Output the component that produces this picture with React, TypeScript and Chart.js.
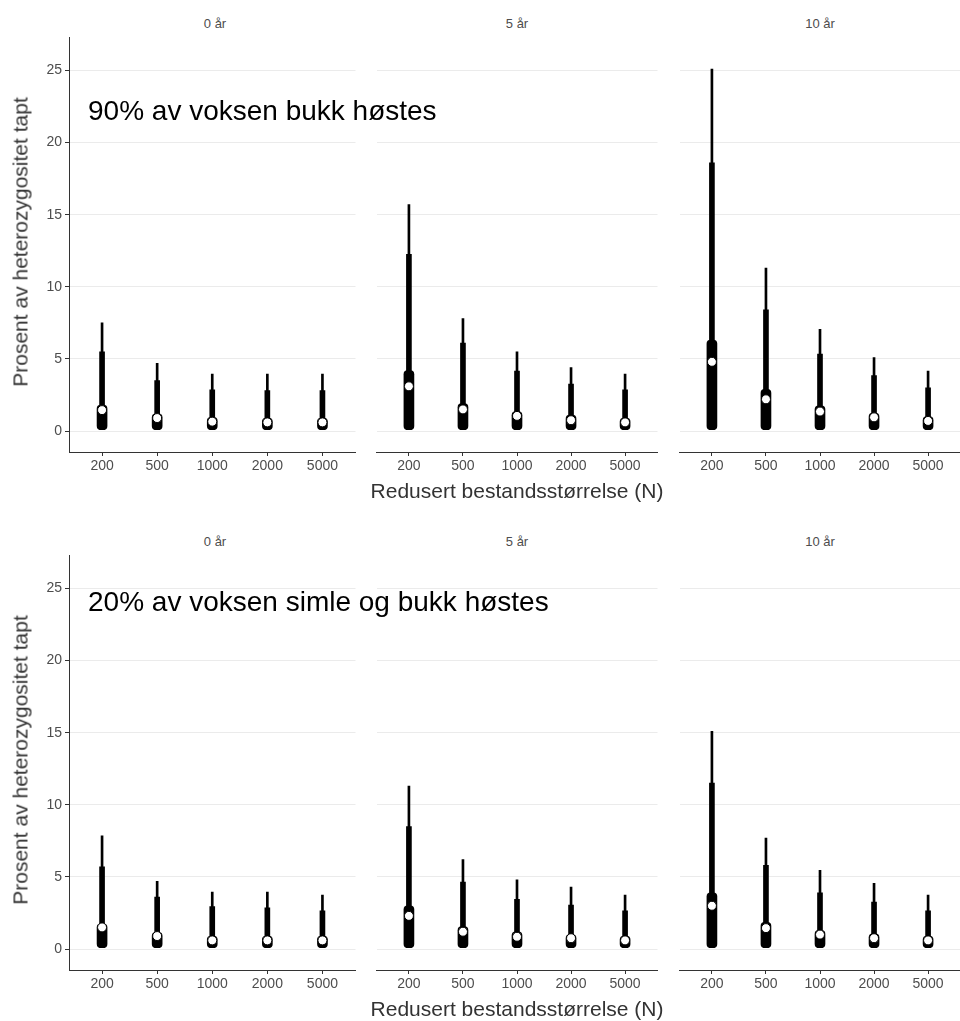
import React, { useEffect, useRef } from 'react';
import { Chart, registerables } from 'chart.js';

Chart.register(...registerables);

// ---------- data ----------
const categories = ['200', '500', '1000', '2000', '5000'];
const facetLabels = ['0 år', '5 år', '10 år'];
const yTickValues = [0, 5, 10, 15, 20, 25];
const rowAnnotations = ['90% av voksen bukk høstes', '20% av voksen simle og bukk høstes'];
const yTitle = 'Prosent av heterozygositet tapt';
const xTitle = 'Redusert bestandsstørrelse (N)';

const lowerBound = [0.1, 0.1, 0.1, 0.1, 0.1];

// Row 1: 90% av voksen bukk høstes (per facet: 0 år, 5 år, 10 år)
const bukkUpper95 = [
  [7.5, 4.7, 3.95, 3.95, 3.95],
  [15.7, 7.8, 5.5, 4.4, 3.95],
  [25.1, 11.3, 7.05, 5.1, 4.15],
];
const bukkUpper80 = [
  [5.5, 3.5, 2.85, 2.8, 2.8],
  [12.25, 6.1, 4.15, 3.25, 2.85],
  [18.6, 8.4, 5.33, 3.85, 3.0],
];
const bukkUpper50 = [
  [1.8, 1.2, 0.95, 0.9, 0.9],
  [4.2, 1.9, 1.35, 1.1, 0.9],
  [6.3, 2.9, 1.75, 1.25, 1.0],
];
const bukkMedian = [
  [1.45, 0.9, 0.65, 0.6, 0.6],
  [3.1, 1.5, 1.05, 0.75, 0.6],
  [4.8, 2.2, 1.35, 0.95, 0.7],
];

// Row 2: 20% av voksen simle og bukk høstes
const simleUpper95 = [
  [7.85, 4.7, 3.95, 3.95, 3.75],
  [11.3, 6.2, 4.8, 4.3, 3.75],
  [15.1, 7.7, 5.45, 4.55, 3.75],
];
const simleUpper80 = [
  [5.7, 3.6, 2.95, 2.85, 2.65],
  [8.5, 4.65, 3.45, 3.05, 2.65],
  [11.5, 5.8, 3.9, 3.25, 2.65],
];
const simleUpper50 = [
  [1.75, 1.15, 0.9, 0.9, 0.9],
  [3.0, 1.55, 1.2, 1.0, 0.9],
  [3.9, 1.85, 1.3, 1.05, 0.9],
];
const simleMedian = [
  [1.5, 0.9, 0.6, 0.6, 0.6],
  [2.3, 1.2, 0.85, 0.75, 0.6],
  [3.0, 1.45, 1.0, 0.75, 0.6],
];

// ---------- layout ----------
const FONT = '"Liberation Sans", Arial, Helvetica, sans-serif';
const ROW_OFFSET = 518;
const PLOT_TOP = 37;
const PLOT_H = 415;
const TOP_PAD = 5;
const X_AXIS_H = 30;
const Y_AXIS_W = 69;
const panelX = [
  { left: 69, right: 361 },
  { left: 371, right: 663 },
  { left: 674, right: 966 },
];
const Y_MIN = -1.454;
const Y_MAX = 27.29;

type PanelProps = {
  top: number;
  left: number;
  width: number;
  height: number;
  axisW: number;
  u95: number[];
  u80: number[];
  u50: number[];
  med: number[];
};

function Panel({ top, left, width, height, axisW, u95, u80, u50, med }: PanelProps) {
  const ref = useRef<HTMLCanvasElement | null>(null);
  useEffect(() => {
    if (!ref.current) return;
    const xs = categories.map((_, i) => i + 1);
    const mk = (hi: number[]) => xs.map((x, i) => ({ x, y: [lowerBound[i], hi[i]] }));
    const chart = new Chart(ref.current, {
      type: 'bar',
      data: {
        datasets: [
          {
            type: 'bar',
            data: mk(u95) as any,
            backgroundColor: '#000',
            barThickness: 2,
            grouped: false,
            order: 4,
          } as any,
          {
            type: 'bar',
            data: mk(u80) as any,
            backgroundColor: '#000',
            barThickness: 5,
            grouped: false,
            order: 3,
          } as any,
          {
            type: 'bar',
            data: mk(u50) as any,
            backgroundColor: '#000',
            barThickness: 10,
            grouped: false,
            borderRadius: 4,
            borderSkipped: false,
            order: 2,
          } as any,
          {
            type: 'scatter',
            data: xs.map((x, i) => ({ x, y: med[i] })),
            pointRadius: 4.5,
            pointBackgroundColor: '#fff',
            pointBorderColor: '#000',
            pointBorderWidth: 1,
            order: 1,
          } as any,
        ],
      },
      options: {
        animation: false,
        responsive: false,
        maintainAspectRatio: false,
        devicePixelRatio: 1,
        layout: { padding: { top: TOP_PAD, left: 0, right: 0, bottom: 0 } },
        plugins: { legend: { display: false }, tooltip: { enabled: false }, title: { display: false } },
        scales: {
          x: {
            type: 'linear',
            min: 0.4,
            max: 5.6,
            offset: false,
            afterBuildTicks: (s: any) => {
              s.ticks = xs.map((v) => ({ value: v }));
            },
            afterFit: (s: any) => {
              s.height = X_AXIS_H;
              s.paddingLeft = 0;
              s.paddingRight = 0;
            },
            ticks: {
              callback: (v: any) => categories[Math.round(v) - 1],
              color: '#4d4d4d',
              font: { size: 14, family: FONT },
              padding: 2,
              maxRotation: 0,
              autoSkip: false,
            },
            grid: {
              display: true,
              offset: false,
              drawOnChartArea: false,
              drawTicks: true,
              tickLength: 4,
              tickColor: '#333',
            },
            border: { display: true, color: '#333', width: 1 },
          },
          y: {
            type: 'linear',
            min: Y_MIN,
            max: Y_MAX,
            afterBuildTicks: (s: any) => {
              s.ticks = yTickValues.map((v) => ({ value: v }));
            },
            afterFit: (s: any) => {
              s.width = axisW;
              s.paddingTop = 0;
              s.paddingBottom = 0;
            },
            ticks: {
              display: axisW > 0,
              color: '#4d4d4d',
              font: { size: 14, family: FONT },
              padding: 3,
            },
            grid: {
              color: '#ebebeb',
              lineWidth: 1,
              drawTicks: axisW > 0,
              tickLength: 4,
              tickColor: '#333',
            },
            border: { display: axisW > 0, color: '#333', width: 1 },
          },
        },
      } as any,
    });
    return () => chart.destroy();
  }, [axisW, u95, u80, u50, med]);
  return (
    <canvas
      ref={ref}
      width={width}
      height={height}
      style={{ position: 'absolute', left, top, width, height, display: 'block' }}
    />
  );
}

const textBase: React.CSSProperties = {
  position: 'absolute',
  fontFamily: FONT,
  whiteSpace: 'nowrap',
  lineHeight: 1,
};

export default function App() {
  const rows = [
    { u95: bukkUpper95, u80: bukkUpper80, u50: bukkUpper50, med: bukkMedian },
    { u95: simleUpper95, u80: simleUpper80, u50: simleUpper50, med: simleMedian },
  ];
  return (
    <div
      style={{
        position: 'absolute',
        left: 0,
        top: 0,
        width: 960,
        height: 1021,
        overflow: 'hidden',
        background: '#fff',
      }}
    >
      {rows.map((row, r) => {
        const dy = r * ROW_OFFSET;
        return (
          <React.Fragment key={r}>
            {panelX.map((p, f) => {
              const axisW = f === 0 ? Y_AXIS_W : 0;
              const left = p.left - axisW;
              const width = p.right - p.left + axisW;
              return (
                <React.Fragment key={f}>
                  <Panel
                    top={PLOT_TOP - TOP_PAD + dy}
                    left={left}
                    width={width}
                    height={TOP_PAD + PLOT_H + X_AXIS_H}
                    axisW={axisW}
                    u95={row.u95[f]}
                    u80={row.u80[f]}
                    u50={row.u50[f]}
                    med={row.med[f]}
                  />
                  <div
                    style={{
                      ...textBase,
                      left: (p.left + p.right) / 2,
                      top: 23 + dy,
                      transform: 'translate(-50%, -50%)',
                      fontSize: 13,
                      color: '#4d4d4d',
                    }}
                  >
                    {facetLabels[f]}
                  </div>
                </React.Fragment>
              );
            })}
            <div
              style={{
                ...textBase,
                left: 20,
                top: 242 + dy,
                transform: 'translate(-50%, -50%) rotate(-90deg)',
                fontSize: 21,
                color: '#333',
              }}
            >
              {yTitle}
            </div>
            <div
              style={{
                ...textBase,
                left: 517,
                top: 490 + dy,
                transform: 'translate(-50%, -50%)',
                fontSize: 21,
                color: '#333',
              }}
            >
              {xTitle}
            </div>
            <div
              style={{
                ...textBase,
                left: 88,
                top: (r === 0 ? 111 : 602 - ROW_OFFSET) + dy,
                transform: 'translate(0, -50%)',
                fontSize: 28,
                color: '#000',
              }}
            >
              {rowAnnotations[r]}
            </div>
          </React.Fragment>
        );
      })}
    </div>
  );
}
